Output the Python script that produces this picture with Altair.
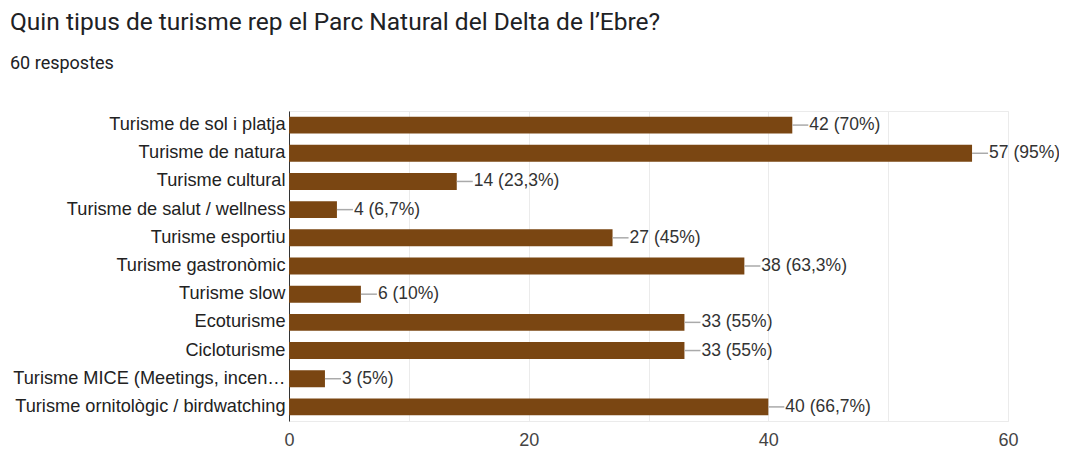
import altair as alt
import pandas as pd

categories = [
    "Turisme de sol i platja",
    "Turisme de natura",
    "Turisme cultural",
    "Turisme de salut / wellness",
    "Turisme esportiu",
    "Turisme gastronòmic",
    "Turisme slow",
    "Ecoturisme",
    "Cicloturisme",
    "Turisme MICE (Meetings, incen…",
    "Turisme ornitològic / birdwatching",
]
counts = [42, 57, 14, 4, 27, 38, 6, 33, 33, 3, 40]
percents = ["70%", "95%", "23,3%", "6,7%", "45%", "63,3%", "10%", "55%", "55%", "5%", "66,7%"]

df = pd.DataFrame({
    "cat": categories,
    "n": counts,
    "label": [f"{n} ({p})" for n, p in zip(counts, percents)],
})

FONT = "Liberation Sans"

y_enc = alt.Y(
    "cat:N", sort=categories, title=None,
    scale=alt.Scale(paddingInner=0.4, paddingOuter=0.2),
    axis=alt.Axis(labelFont=FONT, labelFontSize=18.2, labelColor="#222222",
                  ticks=False, labelPadding=4, domainColor="#333333",
                  labelLimit=400),
)
x_enc = alt.X(
    "n:Q", title=None,
    scale=alt.Scale(domain=[0, 60], nice=False),
    axis=alt.Axis(values=[0, 10, 20, 30, 40, 50, 60],
                  labelExpr="datum.value % 20 == 0 ? datum.label : ''",
                  labelFont=FONT, labelFontSize=18, labelColor="#444444",
                  labelFlush=False,
                  ticks=False, labelPadding=10, gridColor="#ebebeb",
                  domainColor="#ebebeb"),
)

base = alt.Chart(df)

bars = base.mark_bar(color="#7a4612").encode(y=y_enc, x=x_enc)
leaders = base.mark_rule(color="#aaaaaa", strokeWidth=1.5, x2Offset=16).encode(
    y=alt.Y("cat:N", sort=categories), x="n:Q", x2="n:Q")
texts = base.mark_text(align="left", baseline="middle", dx=17, font=FONT,
                       fontSize=17.5, color="#333333").encode(
    y=alt.Y("cat:N", sort=categories), x="n:Q", text="label:N")

chart = alt.layer(bars, leaders, texts).properties(
    width=719, height=310,
    autosize=alt.AutoSizeParams(type="none"),
    padding={"left": 281, "top": 103, "right": 51, "bottom": 32},
    title=alt.TitleParams(
        text="Quin tipus de turisme rep el Parc Natural del Delta de l’Ebre?",
        subtitle="60 respostes",
        anchor="start", frame="group", dx=-279, offset=37,
        font="Roboto", fontSize=24.5, fontWeight="normal", color="#202124",
        subtitleFont="Roboto", subtitleFontSize=18, subtitleColor="#202124",
        subtitlePadding=20,
    ),
).configure_view(stroke="#ebebeb")

chart.save("out.html", embed_options={"renderer": "svg", "actions": False})
